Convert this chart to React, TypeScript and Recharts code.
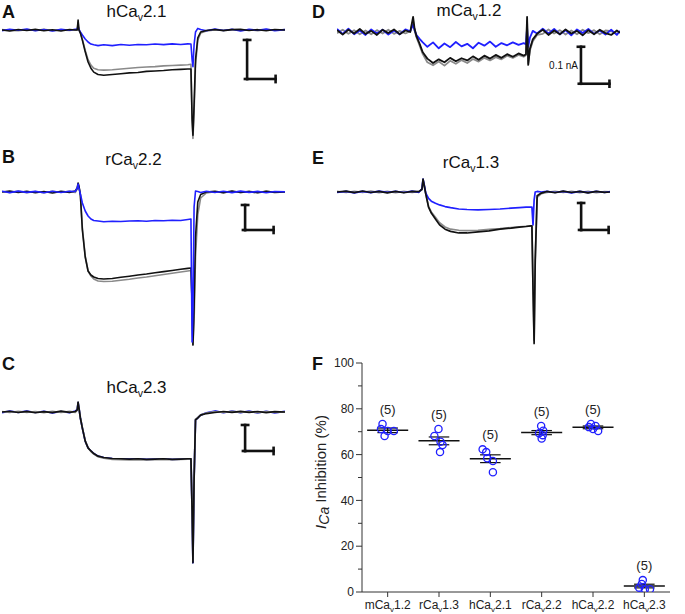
import React from 'react';
import { LineChart, Line, XAxis, YAxis, ReferenceLine, ScatterChart, Scatter } from 'recharts';

const FONT = '"Liberation Sans", Arial, Helvetica, sans-serif';
const BLUE = '#2020ff';
const GRAY = '#8a8a8a';
const INK = '#111111';

// ---- current traces: time in ms (0 = step onset), current in nA (panel D in pA) ----

// shared time base for A, B, C
const tLeft = [
  -26.7, -24, -21, -18, -15, -12, -9, -6, -3, -1,
  -0.3, 0, 0.3, 0.8, 1.5, 2.5, 3.5, 4.5, 5.5,
  7, 9, 12, 15, 18, 21, 24, 27, 30, 33, 36, 38.5, 39.6,
  40, 40.3, 40.7, 41.2, 42, 43,
  45, 48, 51, 54, 57, 60, 63, 66, 69, 72.6,
];

// A: hCav2.1
const aBlack = [
  0, -0.013, 0.006, -0.006, 0.008, -0.01, 0.004, -0.012, 0.006, 0,
  0, 0.128, 0, -0.04, -0.13, -0.28, -0.41, -0.49, -0.54,
  -0.57, -0.58, -0.57, -0.56, -0.55, -0.545, -0.53, -0.525, -0.52, -0.51, -0.505, -0.5, -0.5,
  -1.15, -1.35, -0.96, -0.38, -0.1, -0.026,
  -0.006, 0.006, -0.008, 0.004, 0.008, -0.006, 0.004, -0.01, 0.006, 0,
];
const aGray = [
  0.006, -0.006, -0.01, 0.004, -0.006, 0.008, -0.008, 0, -0.006, 0.004,
  0, 0.1, 0, -0.035, -0.12, -0.26, -0.38, -0.45, -0.49,
  -0.51, -0.515, -0.51, -0.5, -0.49, -0.48, -0.475, -0.47, -0.46, -0.455, -0.45, -0.445, -0.44,
  -1.12, -1.39, -1.05, -0.45, -0.13, -0.04,
  -0.012, 0, -0.004, 0.006, -0.006, 0.002, -0.008, 0.006, -0.004, 0.004,
];
const aBlue = [
  -0.008, 0.01, -0.004, 0.012, -0.01, 0.006, -0.012, 0.008, -0.004, 0.01,
  0.01, 0.05, 0.006, -0.026, -0.064, -0.115, -0.154, -0.18, -0.19,
  -0.2, -0.19, -0.2, -0.186, -0.195, -0.186, -0.19, -0.18, -0.188, -0.178, -0.186, -0.178, -0.18,
  -0.38, -0.47, -0.19, -0.026, 0.02, 0.006,
  -0.01, 0.012, -0.006, 0.01, -0.012, 0.008, -0.004, 0.012, -0.008, 0.004,
];

// B: rCav2.2
const bBlack = [
  0, 0.02, -0.01, 0.016, -0.014, 0.01, -0.02, 0.012, -0.008, 0.02,
  0.08, 0.18, 0.12, -0.06, -0.76, -1.3, -1.58, -1.66, -1.7,
  -1.73, -1.74, -1.73, -1.706, -1.684, -1.66, -1.64, -1.616, -1.592, -1.57, -1.546, -1.528, -1.52,
  -2.2, -3.06, -2.3, -0.9, -0.2, -0.05,
  0, 0.014, -0.012, 0.02, -0.01, 0.008, -0.016, 0.012, -0.008, 0,
];
const bGray = [
  0.01, -0.01, 0.016, -0.012, 0.01, -0.016, 0.014, -0.006, 0.012, -0.01,
  0.06, 0.14, 0.1, -0.06, -0.72, -1.28, -1.58, -1.68, -1.74,
  -1.78, -1.79, -1.785, -1.765, -1.745, -1.72, -1.7, -1.675, -1.65, -1.625, -1.6, -1.58, -1.57,
  -2.25, -3.06, -2.6, -1.3, -0.45, -0.12,
  -0.02, 0.006, -0.014, 0.01, -0.008, 0.012, -0.01, 0.016, -0.006, 0.004,
];
const bBlue = [
  0.014, -0.012, 0.018, -0.008, 0.012, -0.014, 0.016, -0.01, 0.014, 0.01,
  0.08, 0.16, 0.08, -0.04, -0.22, -0.38, -0.48, -0.54, -0.57,
  -0.58, -0.595, -0.585, -0.59, -0.58, -0.575, -0.585, -0.57, -0.575, -0.565, -0.57, -0.55, -0.54,
  -3.0, -2.4, -0.3, 0.02, 0.01, -0.01,
  0.016, -0.01, 0.014, -0.012, 0.018, -0.008, 0.012, -0.014, 0.01, 0.004,
];

// C: hCav2.3
const cBlack = [
  0, 0.014, -0.01, 0.012, -0.014, 0.008, -0.012, 0.016, -0.006, 0.01,
  0.04, 0.19, 0.08, -0.115, -0.31, -0.56, -0.69, -0.75, -0.8,
  -0.85, -0.875, -0.895, -0.9, -0.905, -0.9, -0.91, -0.905, -0.9, -0.91, -0.905, -0.9, -0.9,
  -1.9, -2.9, -1.3, -0.15, -0.115, -0.06,
  -0.03, -0.01, 0.01, -0.008, 0.012, -0.006, 0.01, -0.012, 0.008, 0,
];
const cGray = [
  0.01, -0.01, 0.014, -0.008, 0.01, -0.012, 0.014, -0.01, 0.012, -0.006,
  0.03, 0.16, 0.07, -0.11, -0.3, -0.55, -0.69, -0.76, -0.81,
  -0.86, -0.89, -0.91, -0.915, -0.92, -0.915, -0.92, -0.915, -0.91, -0.915, -0.91, -0.905, -0.9,
  -1.85, -2.85, -1.25, -0.14, -0.11, -0.055,
  -0.02, 0.008, -0.01, 0.012, -0.006, 0.01, -0.012, 0.006, -0.008, 0.004,
];
const cBlue = [
  -0.014, 0.016, -0.008, 0.018, -0.01, 0.014, -0.016, 0.01, -0.012, 0.016,
  0.05, 0.18, 0.08, -0.115, -0.31, -0.56, -0.69, -0.75, -0.8,
  -0.85, -0.875, -0.895, -0.9, -0.905, -0.9, -0.91, -0.905, -0.9, -0.91, -0.905, -0.9, -0.9,
  -1.9, -2.9, -1.3, -0.15, -0.115, -0.06,
  -0.016, 0.02, -0.014, 0.018, -0.012, 0.016, -0.018, 0.014, -0.016, 0.012,
];

// D: mCav1.2 (pA)
const tD = [
  -26.7, -24.7, -22.7, -20.7, -18.7, -16.7, -14.7, -12.7, -10.7, -8.7, -6.7, -4.7, -2.7, -1,
  0, 0.5, 1.2, 2.2, 3.4,
  5, 7, 9, 11, 13, 15, 17, 19, 21, 23, 25, 27, 29, 31, 33, 35, 37,
  38.8, 39.6,
  40, 40.4, 41, 42, 43.5,
  45.5, 47.5, 49.5, 51.5, 53.5, 55.5, 57.5, 59.5, 61.5, 63.5, 65.5, 67.5, 69.5, 71.5, 72.6,
];
const dBlack = [
  5, -7, 6, -4, 8, -5, 3, -8, 6, -3, 7, -6, 4, 0,
  41, 10, -12, -30, -55,
  -72, -84, -74, -82, -70, -79, -71, -77, -66, -75, -64, -72, -62, -70, -60, -67, -58,
  -64, -60,
  41, -89, -45, -20, -5,
  6, -8, 4, -6, 7, -4, 3, -9, 5, -6, 6, -3, -8, 4, -2,
];
const dGray = [
  -3, 6, -5, 5, -6, 4, -6, 5, -4, 6, -5, 3, -4, 2,
  30, 5, -15, -35, -60,
  -82, -90, -80, -91, -78, -86, -76, -84, -73, -80, -70, -77, -68, -74, -64, -70, -62,
  -67, -63,
  30, -85, -50, -25, -8,
  -5, 7, -4, 5, -7, 4, -6, 6, -3, 5, -6, 4, 2, -5, 0,
];
const dBlue = [
  8, -5, 9, -6, 4, -8, 7, -4, 6, -7, 4, -6, 7, 2,
  20, 5, -8, -18, -28,
  -40, -28, -44, -31, -41, -27, -39, -32, -44, -29, -37, -26, -40, -30, -36, -28, -35,
  -30, -33,
  12, -40, -15, 3, -4,
  9, -4, 8, -6, 5, -9, 7, -3, 8, -5, 4, -7, 6, -8, 3,
];

// E: rCav1.3
const tE = [
  -31.3, -28, -25, -22, -19, -16, -13, -10, -7, -4, -1.5, -0.4,
  0, 0.4, 1, 2, 3, 4.5, 6, 8, 10, 13, 16, 20, 24, 28, 32, 35, 37.5, 39.2, 39.6,
  40, 40.4, 40.8, 41.5, 43,
  45, 48, 51, 54, 57, 60, 63, 66, 68,
];
const eBlack = [
  0, 0.015, -0.012, 0.018, -0.01, 0.012, -0.016, 0.01, -0.014, 0.012, 0.008, 0.05,
  0.24, 0.13, -0.04, -0.28, -0.39, -0.5, -0.61, -0.69, -0.73, -0.76, -0.76, -0.74, -0.72, -0.69, -0.67, -0.65, -0.64, -0.63, -0.63,
  -1.81, -2.81, -1.26, -0.07, -0.02,
  0.01, -0.014, 0.016, -0.01, 0.012, -0.016, 0.01, -0.008, 0,
];
const eGray = [
  0.012, -0.01, 0.014, -0.008, 0.016, -0.012, 0.01, -0.014, 0.012, -0.01, 0.006, 0.04,
  0.22, 0.12, -0.04, -0.27, -0.37, -0.47, -0.57, -0.65, -0.69, -0.71, -0.715, -0.71, -0.695, -0.68, -0.66, -0.645, -0.635, -0.63, -0.63,
  -1.75, -2.75, -1.3, -0.1, -0.03,
  -0.008, 0.012, -0.01, 0.014, -0.012, 0.01, -0.014, 0.008, 0.004,
];
const eBlue = [
  -0.01, 0.012, -0.016, 0.01, -0.012, 0.016, -0.008, 0.014, -0.01, 0.016, -0.006, 0.06,
  0.24, 0.14, -0.02, -0.12, -0.17, -0.21, -0.24, -0.27, -0.29, -0.315, -0.325, -0.333, -0.325, -0.315, -0.3, -0.29, -0.28, -0.28, -0.28,
  -0.61, -0.15, 0, 0.01, 0,
  0.014, -0.01, 0.012, -0.016, 0.01, -0.012, 0.014, -0.01, 0.006,
];

// ---- panel F: % inhibition of ICa ----
const channels = ['mCav1.2', 'rCav1.3', 'hCav2.1', 'rCav2.2', 'hCav2.2', 'hCav2.3'];
const inhMCav12 = [73.4, 71.2, 68.1, 70.3, 70.3];
const inhRCav13 = [71.2, 68.1, 65.6, 64.2, 61.1];
const inhHCav21 = [62.3, 61.1, 58.4, 57.2, 52.3];
const inhRCav22 = [72.5, 70.4, 69.3, 68.5, 67.0];
const inhHCav22 = [73.4, 72.5, 72.0, 71.2, 70.3];
const inhHCav23 = [5.2, 3.5, 1.9, 1.2, 1.2];
const inhMean = [70.6, 66.0, 58.2, 69.6, 71.9, 2.6];
const inhSem = [1.0, 1.7, 1.7, 0.9, 0.6, 0.8];
const cellCounts = [5, 5, 5, 5, 5, 5];
// horizontal scatter of the points inside each column
const jitter = [
  [-0.1, -0.13, -0.06, 0.0, 0.12],
  [-0.01, -0.09, 0.03, 0.07, 0.02],
  [-0.15, -0.08, -0.06, 0.05, 0.05],
  [-0.01, 0.03, -0.05, 0.02, 0.0],
  [-0.04, 0.05, -0.08, 0.0, 0.1],
  [-0.03, -0.05, -0.1, 0.01, 0.11],
];

type Key = 'black' | 'gray' | 'blue';
type ScaleBar = { t: number; v: number; len: number; h: number; capT: number; capV: number };
type PanelProps = {
  left: number;
  top: number;
  width: number;
  height: number;
  xDomain: [number, number];
  yDomain: [number, number];
  time: number[];
  black: number[];
  gray: number[];
  blue: number[];
  order: Key[];
  bar: ScaleBar;
  lineWidth: number;
};

const colorOf: Record<Key, string> = { black: INK, gray: GRAY, blue: BLUE };

function TracePanel(p: PanelProps) {
  const rows = p.time.map((t, i) => ({ t, black: p.black[i], gray: p.gray[i], blue: p.blue[i] }));
  const { t, v, len, h, capT, capV } = p.bar;
  const b = v - h;
  const segs = [
    [{ x: t, y: v }, { x: t, y: b }],
    [{ x: t, y: b }, { x: t + len, y: b }],
    [{ x: t - capT, y: v }, { x: t + capT, y: v }],
    [{ x: t + len, y: b - capV }, { x: t + len, y: b + capV }],
    [{ x: t - capT * 0.7, y: b }, { x: t, y: b }],
  ];
  return (
    <div style={{ position: 'absolute', left: p.left, top: p.top }}>
      <LineChart width={p.width} height={p.height} data={rows} margin={{ top: 0, right: 0, bottom: 0, left: 0 }}>
        <XAxis dataKey="t" type="number" domain={p.xDomain} hide allowDataOverflow />
        <YAxis type="number" domain={p.yDomain} hide allowDataOverflow />
        {p.order.map((k) => (
          <Line
            key={k}
            dataKey={k}
            type="linear"
            stroke={colorOf[k]}
            strokeWidth={p.lineWidth}
            strokeLinejoin="round"
            dot={false}
            activeDot={false}
            isAnimationActive={false}
          />
        ))}
        {segs.map((s, i) => (
          <ReferenceLine key={i} segment={s} stroke={INK} strokeWidth={2.6} strokeLinecap="square" />
        ))}
      </LineChart>
    </div>
  );
}

function ChannelName({ name, size }: { name: string; size: number }) {
  const [pre, post] = name.split('v');
  return (
    <span>
      {pre}
      <span style={{ fontSize: size * 0.62, position: 'relative', top: size * 0.28 }}>v</span>
      {post}
    </span>
  );
}

function Title({ cx, top, name }: { cx: number; top: number; name: string }) {
  return (
    <div
      style={{
        position: 'absolute',
        left: cx - 60,
        top,
        width: 120,
        textAlign: 'center',
        fontSize: 17,
        lineHeight: '17px',
        whiteSpace: 'nowrap',
      }}
    >
      <ChannelName name={name} size={17} />
    </div>
  );
}

function Letter({ left, top, text }: { left: number; top: number; text: string }) {
  return (
    <div style={{ position: 'absolute', left, top, fontSize: 18, lineHeight: '18px', fontWeight: 700 }}>{text}</div>
  );
}

function CategoryTick({ x, y, payload }: any) {
  const name = channels[Math.round(payload.value) - 1];
  if (!name) return null;
  const [pre, post] = name.split('v');
  return (
    <text x={x} y={y} dy="0.71em" textAnchor="middle" fontSize={12} fill="#222" fontFamily={FONT}>
      <tspan>{pre}</tspan>
      <tspan fontSize={8} dy={3}>
        v
      </tspan>
      <tspan dy={-3}>{post}</tspan>
    </text>
  );
}

function ValueTick({ x, y, payload }: any) {
  const major = payload.value % 20 === 0;
  const len = major ? 6 : 4;
  return (
    <g>
      <line x1={x} x2={x - len} y1={y} y2={y} stroke="#333" strokeWidth={1} />
      {major && (
        <text x={x - 8} y={y} dy="0.35em" textAnchor="end" fontSize={12} fill="#222" fontFamily={FONT}>
          {payload.value}
        </text>
      )}
    </g>
  );
}

function InhibitionPlot() {
  const groups = [inhMCav12, inhRCav13, inhHCav21, inhRCav22, inhHCav22, inhHCav23];
  const points = groups.flatMap((vals, g) => vals.map((y, i) => ({ x: g + 1 + jitter[g][i], y })));
  const labels = groups.map((vals, g) => ({ x: g + 1, y: Math.max(...vals) + 6.5, n: cellCounts[g] }));
  const meanHalf = 0.4;
  const semHalf = 0.2;
  return (
    <div style={{ position: 'absolute', left: 300, top: 350 }}>
      <ScatterChart width={385} height={264} margin={{ top: 13, right: 15, bottom: 0, left: 0 }}>
        <XAxis
          dataKey="x"
          type="number"
          domain={[0.5, 6.5]}
          ticks={[1, 2, 3, 4, 5, 6]}
          interval={0}
          height={22}
          stroke="#333"
          tickSize={5}
          tickMargin={3}
          tick={<CategoryTick />}
          allowDataOverflow
        />
        <YAxis
          dataKey="y"
          type="number"
          domain={[0, 100]}
          ticks={[0, 10, 20, 30, 40, 50, 60, 70, 80, 90, 100]}
          interval={0}
          width={62}
          stroke="#333"
          tickLine={false}
          tickSize={0}
          tickMargin={0}
          tick={<ValueTick />}
          allowDataOverflow
        />
        <Scatter
          data={points}
          isAnimationActive={false}
          shape={(s: any) => <circle cx={s.cx} cy={s.cy} r={3.6} fill="none" stroke={BLUE} strokeWidth={1.3} />}
        />
        {inhMean.map((m, g) => (
          <ReferenceLine
            key={'m' + g}
            segment={[{ x: g + 1 - meanHalf, y: m }, { x: g + 1 + meanHalf, y: m }]}
            stroke="#111"
            strokeWidth={1.5}
          />
        ))}
        {inhMean.map((m, g) => (
          <ReferenceLine
            key={'s' + g}
            segment={[{ x: g + 1 - semHalf, y: m + inhSem[g] }, { x: g + 1 + semHalf, y: m + inhSem[g] }]}
            stroke="#111"
            strokeWidth={1.2}
          />
        ))}
        {inhMean.map((m, g) => (
          <ReferenceLine
            key={'b' + g}
            segment={[{ x: g + 1 - semHalf, y: m - inhSem[g] }, { x: g + 1 + semHalf, y: m - inhSem[g] }]}
            stroke="#111"
            strokeWidth={1.2}
          />
        ))}
        {inhMean.map((m, g) => (
          <ReferenceLine
            key={'v' + g}
            segment={[{ x: g + 1, y: m - inhSem[g] }, { x: g + 1, y: m + inhSem[g] }]}
            stroke="#111"
            strokeWidth={1.2}
          />
        ))}
        <Scatter
          data={labels}
          isAnimationActive={false}
          shape={(s: any) => (
            <text x={s.cx} y={s.cy} dy="0.35em" textAnchor="middle" fontSize={13} fill="#222" fontFamily={FONT}>
              ({s.payload.n})
            </text>
          )}
        />
      </ScatterChart>
    </div>
  );
}

export default function App() {
  return (
    <div
      style={{
        position: 'absolute',
        left: 0,
        top: 0,
        width: 685,
        height: 614,
        background: '#fff',
        fontFamily: FONT,
        color: '#111',
        overflow: 'hidden',
      }}
    >
      <TracePanel
        left={2}
        top={15}
        width={283}
        height={130}
        xDomain={[-26.7, 72.6]}
        yDomain={[-1.474, 0.192]}
        time={tLeft}
        black={aBlack}
        gray={aGray}
        blue={aBlue}
        order={['gray', 'blue', 'black']}
        bar={{ t: 59.3, v: -0.128, len: 10, h: 0.5, capT: 1.1, capV: 0.04 }}
        lineWidth={1.6}
      />
      <TracePanel
        left={2}
        top={175}
        width={283}
        height={175}
        xDomain={[-26.7, 72.6]}
        yDomain={[-3.16, 0.34]}
        time={tLeft}
        black={bBlack}
        gray={bGray}
        blue={bBlue}
        order={['gray', 'black', 'blue']}
        bar={{ t: 58.6, v: -0.26, len: 10, h: 0.5, capT: 1.1, capV: 0.06 }}
        lineWidth={1.6}
      />
      <TracePanel
        left={2}
        top={395}
        width={283}
        height={175}
        xDomain={[-26.7, 72.6]}
        yDomain={[-3.04, 0.327]}
        time={tLeft}
        black={cBlack}
        gray={cGray}
        blue={cBlue}
        order={['blue', 'gray', 'black']}
        bar={{ t: 58.6, v: -0.25, len: 10, h: 0.5, capT: 1.1, capV: 0.06 }}
        lineWidth={1.7}
      />
      <TracePanel
        left={337}
        top={10}
        width={283}
        height={90}
        xDomain={[-26.7, 72.6]}
        yDomain={[-184, 59.5]}
        time={tD}
        black={dBlack}
        gray={dGray}
        blue={dBlue}
        order={['gray', 'blue', 'black']}
        bar={{ t: 58.9, v: -40, len: 10, h: 100, capT: 1.1, capV: 8 }}
        lineWidth={1.8}
      />
      <TracePanel
        left={337}
        top={175}
        width={273}
        height={175}
        xDomain={[-31.3, 68]}
        yDomain={[-2.93, 0.315]}
        time={tE}
        black={eBlack}
        gray={eGray}
        blue={eBlue}
        order={['gray', 'blue', 'black']}
        bar={{ t: 57.5, v: -0.204, len: 10, h: 0.5, capT: 1.1, capV: 0.055 }}
        lineWidth={1.7}
      />
      <InhibitionPlot />

      <div
        style={{
          position: 'absolute',
          left: 540,
          top: 60,
          width: 38,
          textAlign: 'right',
          fontSize: 10,
          lineHeight: '12px',
          whiteSpace: 'nowrap',
        }}
      >
        0.1 nA
      </div>

      <div
        style={{
          position: 'absolute',
          left: 321,
          top: 472,
          transform: 'translate(-50%, -50%) rotate(-90deg)',
          whiteSpace: 'nowrap',
          fontSize: 15,
          lineHeight: '17px',
          color: '#222',
        }}
      >
        <i>I</i>
        <i style={{ position: 'relative', top: 3, fontSize: 14 }}>Ca</i> Inhibition (%)
      </div>

      <Title cx={136.5} top={2.6} name={channels[2]} />
      <Title cx={133.5} top={150.6} name={channels[3]} />
      <Title cx={136.5} top={378.6} name={channels[5]} />
      <Title cx={469} top={1.6} name={channels[0]} />
      <Title cx={471} top={153.6} name={channels[1]} />

      <Letter left={2} top={3} text="A" />
      <Letter left={2} top={148} text="B" />
      <Letter left={2} top={355} text="C" />
      <Letter left={312} top={3} text="D" />
      <Letter left={312} top={149} text="E" />
      <Letter left={312} top={355} text="F" />
    </div>
  );
}
